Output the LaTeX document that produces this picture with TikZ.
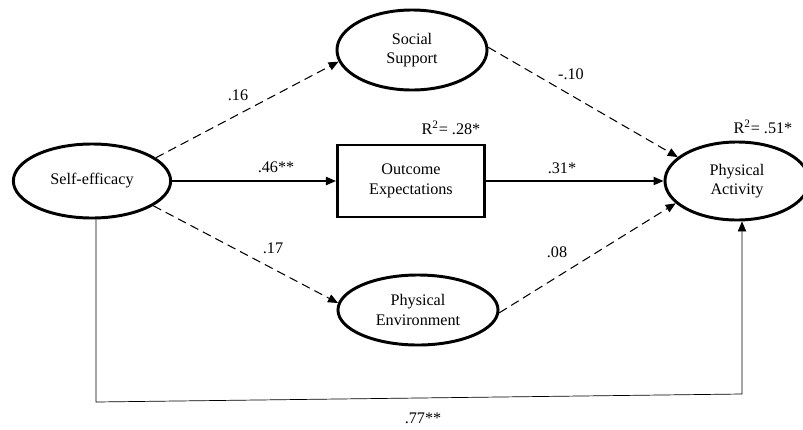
\documentclass[tikz,border=0pt]{standalone}
\usepackage{fontspec}
\setmainfont{Liberation Serif}
\usetikzlibrary{shapes.geometric,arrows.meta}

\begin{document}
\begin{tikzpicture}[x=0.025cm, y=-0.025cm,
    latent/.style={draw, ellipse, line width=2.1pt, inner sep=0pt, align=center, font=\fontsize{11.5}{14}\selectfont},
    observed/.style={draw, rectangle, line width=2.1pt, inner sep=0pt, align=center, font=\fontsize{11.5}{14}\selectfont},
    path/.style={-{Triangle[length=2.5mm,width=2.1mm]}, line width=0.75pt},
    dpath/.style={path, dash pattern=on 2.2mm off 1.3mm},
    coef/.style={font=\fontsize{11.5}{14}\selectfont}]
    \useasboundingbox (0,0) rectangle (803,429);

    % Constructs
    \node[latent, minimum width=3.93cm, minimum height=1.85cm] (se) at (92,181) {Self-efficacy};
    \node[latent, minimum width=3.75cm, minimum height=2cm] (ss) at (412,50) {Social\\Support};
    \node[observed, minimum width=3.68cm, minimum height=1.8cm] (oe) at (411,181) {Outcome\\Expectations};
    \node[latent, minimum width=4cm, minimum height=1.75cm] (pe) at (418,310) {Physical\\Environment};
    \node[latent, minimum width=3.6cm, minimum height=1.95cm] (pa) at (737,181) {Physical\\Activity};

    % R squared
    \node[coef] (r2oe) at (451,128) {R\textsuperscript{2}= .28*};
    \node[coef] (r2pa) at (763,127) {R\textsuperscript{2}= .51*};

    % Paths
    \draw[dpath] (se.20) -- (ss.189);
    \draw[path] (se.east) -- (oe.west);
    \draw[dpath] (se.-22) -- (pe.175);
    \draw[dpath] (ss.2) -- (pa.158);
    \draw[path] (oe.east) -- (pa.west);
    \draw[dpath] (pe.-2) -- (pa.200);

    % Direct path
    \coordinate (bl) at (96,402);
    \coordinate (br) at (742,394);
    \draw[path, line width=0.5pt] (bl |- se.south) -- (bl) -- (br) -- (br |- pa.south);

    % Coefficients
    \node[coef] (c1) at (238,95) {.16};
    \node[coef] (c2) at (276,167) {.46**};
    \node[coef] (c3) at (273,248) {.17};
    \node[coef] (c4) at (571,74) {-.10};
    \node[coef] (c5) at (562,168) {.31*};
    \node[coef] (c6) at (557,252) {.08};
    \node[coef] (c7) at (423,418) {.77**};
\end{tikzpicture}
\end{document}
